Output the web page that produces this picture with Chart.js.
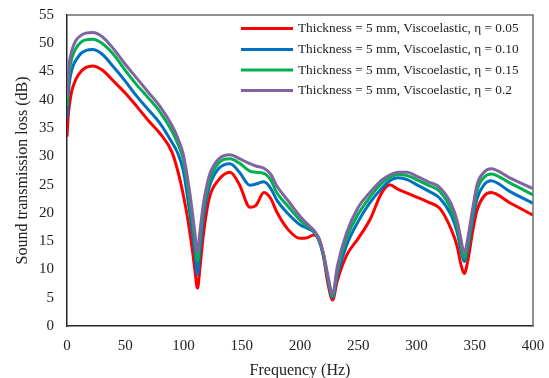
<!DOCTYPE html>
<html>
<head>
<meta charset="utf-8">
<script src="https://cdn.jsdelivr.net/npm/chart.js@4/dist/chart.umd.min.js"></script>
<style>
  html, body { margin: 0; padding: 0; background: #fff; }
  #wrap { width: 549px; height: 378px; }
</style>
</head>
<body>
<div id="wrap"><canvas id="grafico" width="549" height="378"></canvas></div>
<script>
// Frecuencias (Hz)
const frecuencias = [0, 1, 2, 4, 6, 8, 12, 16, 22, 30, 40, 50, 60, 70, 80, 90, 95, 100, 104, 108, 110, 112, 114, 117, 122, 130, 140, 148, 157, 162, 169, 175, 180, 190, 200, 206, 212, 216, 220, 224, 228, 232, 240, 250, 260, 270, 277, 284, 292, 300, 310, 320, 330, 335, 338, 341, 344, 348, 352, 358, 364, 380, 400];

// Pérdida de transmisión (dB) por cada eta
const eta005 = [33.5, 37, 39, 41.5, 42.8, 43.8, 45, 45.7, 46, 45.3, 43.3, 41.2, 38.8, 36.3, 34, 30.8, 27.5, 23, 18.5, 12.8, 9.5, 6.7, 10, 16, 22.5, 25.8, 27.2, 25, 21, 21.3, 23.6, 22.5, 20.2, 17, 15.5, 15.6, 16.1, 15.6, 12.5, 7.5, 4.6, 8, 12.5, 15.5, 18.8, 23.5, 25, 24.2, 23.5, 22.8, 21.9, 20.8, 17, 14, 11, 9.3, 11.5, 16.5, 20.5, 23, 23.6, 21.8, 19.6];
const eta010 = [36.7, 40.5, 43, 45.2, 46.4, 47.1, 48.2, 48.7, 48.9, 48.1, 45.8, 43.3, 40.6, 38.2, 35.8, 32.5, 30.6, 27.3, 22, 16, 12.5, 9.1, 13, 19, 24.5, 27.8, 28.7, 27.2, 24.9, 25.1, 25.5, 24.3, 22.3, 19.8, 17.9, 17.3, 16.6, 15.2, 12.5, 8.2, 5, 9, 14.3, 18.5, 21.8, 24.3, 25.7, 26.2, 25.9, 25, 23.9, 22.6, 19.5, 16.5, 13.5, 11.4, 13.5, 18.5, 22.5, 25, 25.7, 23.8, 21.7];
const eta015 = [39, 42.5, 45, 47.2, 48.4, 49.2, 50.2, 50.6, 50.7, 50, 48, 45.2, 42.6, 40.3, 37.8, 34.5, 32.3, 29.3, 24, 18, 14.5, 11.5, 15, 20.5, 25.5, 28.8, 29.6, 28.8, 27.4, 27.2, 27, 25.8, 23.6, 21.1, 18.7, 17.7, 16.8, 15.4, 12.8, 8.5, 5.3, 9.8, 15.5, 19.8, 22.8, 25.2, 26.3, 26.8, 26.6, 25.9, 24.9, 23.8, 20.5, 17.5, 14.5, 12, 14.5, 19.5, 24, 26.3, 26.9, 25.3, 23.2];
const eta020 = [40.5, 44, 46.5, 48.6, 49.8, 50.6, 51.4, 51.8, 51.9, 51.2, 49, 46.3, 43.8, 41.3, 38.8, 35.5, 33.3, 30.2, 25.5, 19.5, 16, 13, 16.5, 21.5, 26.5, 29.5, 30.3, 29.6, 28.7, 28.3, 27.9, 26.8, 24.8, 22.1, 19.4, 18.1, 16.9, 15.6, 13, 8.8, 5.6, 10.5, 16.5, 21, 23.6, 25.8, 26.7, 27.2, 27.2, 26.5, 25.5, 24.5, 21.5, 18.5, 15.5, 12.9, 15.5, 20.5, 25, 27.2, 27.8, 26.2, 24.3];

const etiquetas = [
    'Thickness = 5 mm, Viscoelastic, η = 0.05',
    'Thickness = 5 mm, Viscoelastic, η = 0.10',
    'Thickness = 5 mm, Viscoelastic, η = 0.15',
    'Thickness = 5 mm, Viscoelastic, η = 0.2'
];
const colores = ['#ff0000', '#0070c0', '#00b050', '#8064a2'];

const FUENTE = '"Liberation Serif", "Times New Roman", serif';

function serie(valores, i) {
    return {
        label: etiquetas[i],
        data: frecuencias.map((f, k) => ({ x: f, y: valores[k] })),
        borderColor: colores[i],
        backgroundColor: colores[i],
        borderWidth: 3,
        pointRadius: 0,
        cubicInterpolationMode: 'monotone',
        fill: false,
        order: 3 - i   // el último (η = 0.2) queda encima
    };
}

// Marco superior/derecho y leyenda dentro del área
const marcoYLeyenda = {
    id: 'marcoYLeyenda',
    afterDraw(chart) {
        const ctx = chart.ctx;
        const a = chart.chartArea;
        ctx.save();
        ctx.strokeStyle = '#6e6e6e';
        ctx.lineWidth = 1.5;
        ctx.beginPath();
        ctx.moveTo(a.left, a.top);
        ctx.lineTo(a.right, a.top);
        ctx.lineTo(a.right, a.bottom);
        ctx.stroke();

        ctx.font = '13.3px ' + FUENTE;
        ctx.textBaseline = 'middle';
        ctx.fillStyle = '#222';
        const filas = [28.5, 49.5, 70, 90.5];
        etiquetas.forEach((t, i) => {
            ctx.strokeStyle = colores[i];
            ctx.lineWidth = 3;
            ctx.beginPath();
            ctx.moveTo(241, filas[i]);
            ctx.lineTo(293, filas[i]);
            ctx.stroke();
            ctx.fillText(t, 298, filas[i] + 0.5);
        });
        ctx.restore();
    }
};

new Chart(document.getElementById('grafico').getContext('2d'), {
    type: 'line',
    data: {
        datasets: [serie(eta005, 0), serie(eta010, 1), serie(eta015, 2), serie(eta020, 3)]
    },
    options: {
        responsive: false,
        animation: false,
        layout: { padding: { top: 15, right: 16, left: 0, bottom: 0 } },
        plugins: {
            legend: { display: false },
            tooltip: { enabled: false }
        },
        scales: {
            x: {
                type: 'linear',
                min: 0,
                max: 400,
                ticks: { stepSize: 50, color: '#222', padding: 11, font: { family: FUENTE, size: 15 } },
                grid: { display: false, drawTicks: false },
                border: { display: true, color: '#262626', width: 1.5 },
                title: {
                    display: true,
                    text: 'Frequency (Hz)',
                    color: '#222',
                    font: { family: FUENTE, size: 16, lineHeight: 0.9 },
                    padding: 0
                },
                afterFit(scale) {
                    scale.height = 52;
                    scale.paddingLeft = 0;
                    scale.paddingRight = 0;
                }
            },
            y: {
                min: 0,
                max: 55,
                ticks: { stepSize: 5, color: '#222', padding: 13, font: { family: FUENTE, size: 15 } },
                grid: { display: false, drawTicks: false },
                border: { display: true, color: '#262626', width: 1.5 },
                title: {
                    display: true,
                    text: 'Sound transmission loss (dB)',
                    color: '#222',
                    font: { family: FUENTE, size: 16 },
                    padding: { top: 13, bottom: 0 }
                },
                afterFit(scale) {
                    scale.width = 67;
                    scale.paddingTop = 0;
                    scale.paddingBottom = 0;
                }
            }
        }
    },
    plugins: [marcoYLeyenda]
});
</script>
</body>
</html>
